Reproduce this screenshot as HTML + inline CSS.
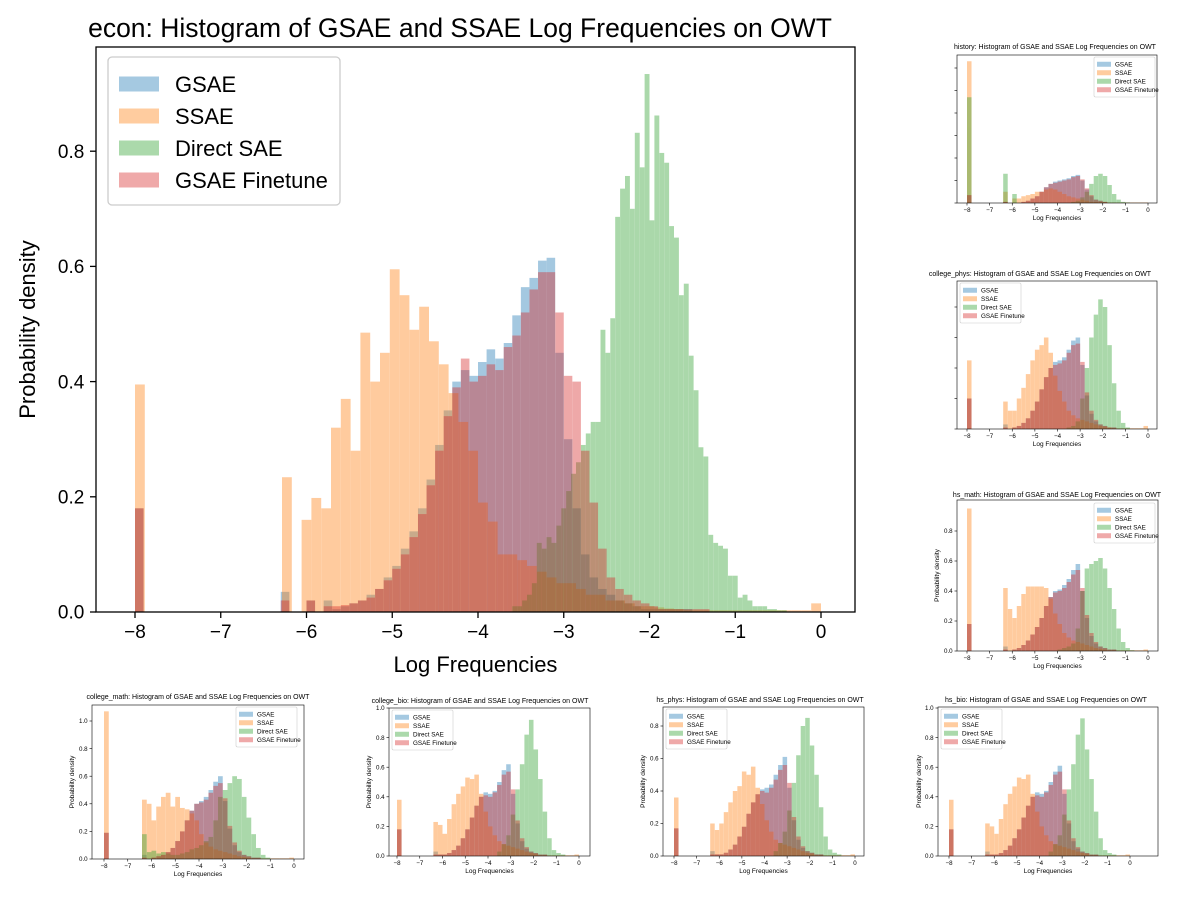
<!DOCTYPE html>
<html><head><meta charset="utf-8">
<style>
html,body{margin:0;padding:0;background:#fff;}
svg{display:block;font-family:"Liberation Sans","DejaVu Sans",sans-serif;}
</style></head>
<body>
<svg id="fig" width="1192" height="906" viewBox="0 0 1192 906" xmlns="http://www.w3.org/2000/svg"></svg>
<script>
// ===== Main chart (econ) data =====
const seriesNames = ["GSAE","SSAE","Direct SAE","GSAE Finetune"];
const xTickLabels = ["−8","−7","−6","−5","−4","−3","−2","−1","0"];
const xTickValues = [-8,-7,-6,-5,-4,-3,-2,-1,0];
const mainYTickValues = [0,0.2,0.4,0.6,0.8];
const mainYTickLabels = ["0.0","0.2","0.4","0.6","0.8"];

const gsaeStart = -8, gsaeWidth = 0.1;
const gsaeValues = [.18,0,0,0,0,0,0,0,0,0,0,0,0,0,0,0,0,.035,0,0,.02,0,.02,.005,.01,.015,.02,.03,.04,.06,.08,.11,.14,.18,.23,.29,.35,.40,.42,.41,.434,.456,.44,.467,.515,.564,.58,.61,.615,.45,.30,.18,.10,.06,.04,.03,.02,.015,.01,.005,.005,.005,.005,.005,.005];
const ssaeStart = -8, ssaeWidth = 8/70;
const ssaeValues = [.395,0,0,0,0,0,0,0,0,0,0,0,0,0,0,.234,0,.16,.198,.18,.32,.37,.28,.485,.40,.45,.595,.55,.49,.53,.47,.43,.38,.33,.28,.19,.157,.10,.10,.09,.08,.07,.06,.05,.05,.04,.03,.03,.02,.02,.015,.01,.01,.008,.006,.005,.003,.003,.003,.003,.003,.003,.003,.003,.003,.003,.003,.003,.003,.015];
const directStart = -3.6, directWidth = 8/140;
const directValues = [.01,.01,.02,.03,.05,.12,.11,.13,.12,.15,.18,.21,.24,.26,.29,.31,.33,.33,.49,.45,.51,.686,.735,.757,.70,.832,.772,.934,.68,.862,.797,.78,.67,.65,.55,.57,.445,.385,.286,.27,.134,.12,.115,.11,.063,.063,.025,.03,.02,.01,.01,.01,.005,.005,.003,.003];
const finetuneStart = -8, finetuneWidth = 0.1;
const finetuneValues = [.18,0,0,0,0,0,0,0,0,0,0,0,0,0,0,0,0,.02,0,0,.02,0,.01,.01,.012,.015,.02,.025,.04,.055,.075,.10,.13,.17,.22,.28,.34,.39,.44,.40,.41,.43,.42,.46,.48,.52,.56,.59,.59,.52,.41,.40,.28,.19,.11,.06,.04,.03,.02,.015,.01,.005,.005,.005,.005,.005,.005];

// ===== Small charts data (bins of 0.2 from -8) =====
const smallStart = -8, smallWidth = 0.2;
const historyGsae = [.07,0,0,0,0,0,0,0,.01,0,0,0,.01,.02,.04,.06,.10,.14,.17,.19,.20,.21,.22,.24,.25,.20,.12,.06,.03,.02,.01,0,0,0,0,0,0,0,0,0];
const historySsae = [1.26,0,0,0,0,0,0,0,.10,0,.04,.04,.06,.07,.08,.10,.10,.12,.13,.12,.10,.08,.06,.05,.04,.03,.02,.01,.01,.01,.01,.005,.005,.005,.005,.005,.005,.005,.005,.005];
const historyDirect = [.94,0,0,0,0,0,0,0,.26,0,.08,0,0,0,0,0,0,0,0,0,0,0,0,.01,.02,.05,.10,.17,.24,.26,.24,.16,.08,.03,.01,.005,0,0,0,0];
const historyFinetune = [.07,0,0,0,0,0,0,0,.01,0,0,0,.01,.02,.04,.06,.10,.14,.17,.18,.19,.20,.21,.23,.24,.21,.13,.07,.03,.02,.01,0,0,0,0,0,0,0,0,0];

const cphysGsae = [.2,0,0,0,0,0,0,0,.03,0,.01,.02,.04,.07,.12,.18,.26,.34,.40,.44,.45,.47,.52,.58,.60,.42,.22,.10,.05,.03,.02,.01,.01,0,0,0,0,0,0,0];
const cphysSsae = [.45,0,0,0,0,0,0,0,.18,.12,.12,.20,.27,.36,.45,.52,.55,.60,.50,.35,.25,.18,.12,.09,.07,.06,.05,.04,.03,.02,.015,.01,.005,.005,.005,.005,.005,.005,.005,.02];
const cphysDirect = [0,0,0,0,0,0,0,0,0,0,0,0,0,0,0,0,0,0,0,0,0,0,.01,.02,.05,.20,.40,.60,.75,.85,.80,.55,.30,.12,.04,.01,0,0,0,0];
const cphysFinetune = [.2,0,0,0,0,0,0,0,.01,0,.01,.02,.04,.07,.12,.18,.26,.34,.40,.42,.43,.45,.50,.55,.56,.44,.24,.12,.06,.03,.02,.01,.01,0,0,0,0,0,0,0];

const hmathGsae = [.18,0,0,0,0,0,0,0,.03,0,.01,.02,.04,.07,.11,.16,.22,.30,.36,.40,.41,.44,.48,.54,.58,.40,.22,.10,.05,.03,.02,.01,.01,0,0,0,0,0,0,0];
const hmathSsae = [.95,0,0,0,0,0,0,0,.42,.28,.22,.30,.38,.43,.43,.43,.43,.42,.35,.25,.18,.12,.09,.07,.06,.05,.04,.03,.02,.015,.01,.005,.005,.005,.005,.005,.005,.005,.005,.01];
const hmathDirect = [0,0,0,0,0,0,0,0,0,0,0,0,0,0,0,0,0,0,0,0,.01,.02,.03,.05,.15,.40,.55,.58,.60,.62,.55,.42,.28,.15,.06,.02,.005,0,0,0];
const hmathFinetune = [.18,0,0,0,0,0,0,0,.01,0,.01,.02,.04,.07,.11,.16,.22,.30,.36,.39,.40,.42,.46,.51,.54,.42,.24,.12,.06,.03,.02,.01,.01,0,0,0,0,0,0,0];

const cmathGsae = [.19,0,0,0,0,0,0,0,.03,0,.01,.02,.03,.05,.08,.13,.20,.28,.35,.40,.42,.45,.50,.56,.60,.42,.22,.10,.05,.03,.02,.01,.01,0,0,0,0,0,0,0];
const cmathSsae = [1.07,0,0,0,0,0,0,0,.43,.40,.28,.38,.45,.48,.38,.45,.37,.36,.33,.28,.18,.12,.09,.07,.06,.05,.04,.03,.02,.015,.01,.005,.005,.005,.005,.005,.005,.005,.005,.01];
const cmathDirect = [0,0,0,0,0,0,0,0,.18,.05,.06,.04,.05,.04,.03,.03,.04,.05,.07,.08,.10,.13,.16,.28,.45,.50,.55,.60,.58,.45,.30,.18,.08,.03,.01,0,0,0,0,0];
const cmathFinetune = [.19,0,0,0,0,0,0,0,.01,0,.01,.02,.03,.05,.08,.13,.20,.28,.35,.40,.41,.43,.48,.53,.55,.44,.24,.12,.06,.03,.02,.01,.01,0,0,0,0,0,0,0];

const cbioGsae = [.18,0,0,0,0,0,0,0,.03,.01,.01,.02,.04,.07,.12,.18,.26,.34,.40,.43,.42,.44,.50,.58,.62,.42,.22,.10,.05,.03,.02,.01,.01,0,0,0,0,0,0,0];
const cbioSsae = [.38,0,0,0,0,0,0,0,.23,.21,.15,.25,.35,.42,.47,.53,.52,.55,.42,.30,.20,.14,.10,.08,.07,.06,.05,.04,.03,.02,.015,.005,.005,.005,.005,.005,.005,.005,.005,.01];
const cbioDirect = [0,0,0,0,0,0,0,0,0,0,0,0,0,0,0,0,0,0,0,0,0,0,.03,.08,.14,.28,.45,.62,.82,.92,.72,.52,.30,.12,.04,.02,.01,0,0,0];
const cbioFinetune = [.18,0,0,0,0,0,0,0,.01,.01,.01,.02,.04,.07,.12,.18,.26,.34,.40,.41,.40,.43,.48,.55,.57,.45,.24,.12,.06,.03,.02,.01,.01,0,0,0,0,0,0,0];

const hphysGsae = [.17,0,0,0,0,0,0,0,.03,.01,.01,.02,.04,.07,.12,.18,.26,.33,.38,.41,.42,.44,.50,.56,.61,.42,.22,.10,.05,.03,.02,.01,.01,0,0,0,0,0,0,0];
const hphysSsae = [.36,0,0,0,0,0,0,0,.20,.16,.20,.27,.33,.40,.43,.52,.50,.55,.42,.32,.22,.15,.10,.08,.07,.06,.05,.04,.03,.02,.015,.005,.005,.005,.005,.005,.005,.005,.005,.01];
const hphysDirect = [0,0,0,0,0,0,0,0,0,0,0,0,0,0,0,0,0,0,0,0,0,0,.03,.08,.15,.28,.45,.62,.80,.85,.68,.50,.30,.12,.04,.02,.01,0,0,0];
const hphysFinetune = [.17,0,0,0,0,0,0,0,.01,.01,.01,.02,.04,.07,.12,.18,.26,.33,.38,.40,.39,.42,.47,.53,.56,.45,.24,.12,.06,.03,.02,.01,.01,0,0,0,0,0,0,0];

const hbioGsae = [.18,0,0,0,0,0,0,0,.03,.01,.01,.02,.04,.07,.12,.18,.26,.34,.40,.43,.42,.44,.50,.57,.61,.42,.22,.10,.05,.03,.02,.01,.01,0,0,0,0,0,0,0];
const hbioSsae = [.38,0,0,0,0,0,0,0,.22,.20,.15,.25,.35,.42,.47,.53,.52,.55,.42,.30,.20,.14,.10,.08,.07,.06,.05,.04,.03,.02,.015,.005,.005,.005,.005,.005,.005,.005,.005,.01];
const hbioDirect = [0,0,0,0,0,0,0,0,0,0,0,0,0,0,0,0,0,0,0,0,0,0,.03,.08,.14,.28,.45,.62,.82,.93,.72,.52,.30,.12,.04,.02,.01,0,0,0];
const hbioFinetune = [.18,0,0,0,0,0,0,0,.01,.01,.01,.02,.04,.07,.12,.18,.26,.34,.40,.41,.40,.43,.48,.55,.57,.45,.24,.12,.06,.03,.02,.01,.01,0,0,0,0,0,0,0];

const colors = ["#1f77b4","#ff7f0e","#2ca02c","#d62728"];
const NS = "http://www.w3.org/2000/svg";
const svg = document.getElementById('fig');

function mk(tag, attrs, parent){
  const e = document.createElementNS(NS, tag);
  for (const k in attrs) e.setAttribute(k, attrs[k]);
  (parent||svg).appendChild(e);
  return e;
}

function drawChart(c){
  const g = mk('g', {});
  
  
  const xs = v => c.xm8 + (v + 8) * (c.x0 - c.xm8) / 8;
  const ys = v => c.y1 - v * c.yUnit;
  c.series.forEach((s, si) => {
    const sg = mk('g', {opacity: 0.4, fill: colors[si]}, g);
    
    
    s.values.forEach((v, i) => {
      if (v <= 0) return;
      const a = xs(s.start + i * s.width), b = xs(s.start + (i + 1) * s.width);
      const top = Math.max(ys(v), c.y0);
      const r = mk('rect', {x: a.toFixed(2), y: top.toFixed(2), width: (b - a).toFixed(2), height: (c.y1 - top).toFixed(2)}, sg);
      
      
    });
  });
  const fr = mk('rect', {x: c.bx0, y: c.y0, width: c.bx1 - c.bx0, height: c.y1 - c.y0, fill: 'none', stroke: '#000', 'stroke-width': c.lw}, g);
  
  
  xTickValues.forEach((v, i) => {
    const x = xs(v);
    mk('line', {x1: x, x2: x, y1: c.y1, y2: c.y1 + c.tick, stroke: '#000', 'stroke-width': c.lw}, g);
    const t = mk('text', {x: x, y: c.y1 + c.tick + c.fs * 1.05, 'font-size': c.fs, 'text-anchor': 'middle', fill: '#000'}, g);
    t.textContent = xTickLabels[i];
    
    
  });
  c.yTicks.forEach((v, i) => {
    const y = ys(v);
    mk('line', {x1: c.bx0 - c.tick, x2: c.bx0, y1: y, y2: y, stroke: '#000', 'stroke-width': c.lw}, g);
    if (c.yLabels) {
      const t = mk('text', {x: c.bx0 - c.tick - c.fs * 0.3, y: y + c.fs * 0.35, 'font-size': c.fs, 'text-anchor': 'end', fill: '#000'}, g);
      t.textContent = c.yLabels[i];
      
      
    }
  });
  const xt = mk('text', {x: (c.bx0 + c.bx1) / 2, y: c.xTitleY, 'font-size': c.afs, 'text-anchor': 'middle', fill: '#000'}, g);
  xt.textContent = 'Log Frequencies';
  
  
  if (c.yTitleX) {
    const yt = mk('text', {x: c.yTitleX, y: (c.y0 + c.y1) / 2, 'font-size': c.afs, 'text-anchor': 'middle', fill: '#000', transform: `rotate(-90 ${c.yTitleX} ${(c.y0 + c.y1) / 2})`}, g);
    yt.textContent = 'Probability density';
    
    
  }
  const tt = mk('text', {x: c.titleX, y: c.titleY, 'font-size': c.tfs, 'text-anchor': 'middle', fill: '#000'}, g);
  tt.textContent = c.title;
  
  
  const L = c.legend;
  const lg = mk('g', {}, g);
  
  
  mk('rect', {x: L.x, y: L.y, width: L.w, height: L.h, rx: L.rx, fill: '#fff', 'fill-opacity': 0.8, stroke: '#ccc', 'stroke-width': c.lw}, lg);
  seriesNames.forEach((n, i) => {
    const cy = L.y + L.pad + L.row * (i + 0.5);
    const p = mk('rect', {x: L.x + L.pad, y: cy - L.ph / 2, width: L.pw, height: L.ph, fill: colors[i], 'fill-opacity': 0.4}, lg);
    
    
    const t = mk('text', {x: L.x + L.pad + L.pw + L.gap, y: cy + L.fs * 0.36, 'font-size': L.fs, fill: '#000'}, lg);
    t.textContent = n;
    
    
  });
}

function S(a,b,cc,d,st,w){ return [{start:st,width:w,values:a},{start:st,width:w,values:b},{start:st,width:w,values:cc},{start:st,width:w,values:d}]; }

drawChart({name:'econ', title:'econ: Histogram of GSAE and SSAE Log Frequencies on OWT',
  bx0:96, bx1:855, y0:47, y1:612, xm8:135, x0:821, yUnit:576, lw:1.3, tick:6, fs:19, afs:22, tfs:26.5,
  yTicks: mainYTickValues, yLabels: mainYTickLabels, xTitleY:672, yTitleX:35, titleX:460, titleY:37,
  series:[{start:gsaeStart,width:gsaeWidth,values:gsaeValues},{start:ssaeStart,width:ssaeWidth,values:ssaeValues},{start:directStart,width:directWidth,values:directValues},{start:finetuneStart,width:finetuneWidth,values:finetuneValues}],
  legend:{x:108,y:57,w:232,h:148,rx:4,pad:11,row:32,pw:40,ph:15,gap:16,fs:22}});

const smallLegend = (x,y) => ({x:x,y:y,w:61,h:40,rx:1.5,pad:3,row:8.5,pw:14,ph:5,gap:4,fs:6.3});
const yt5 = [0,0.2,0.4,0.6,0.8];
const yl5 = ["0.0","0.2","0.4","0.6","0.8"];
const yt6 = [0,0.2,0.4,0.6,0.8,1.0];
const yl6 = ["0.0","0.2","0.4","0.6","0.8","1.0"];
const common = {lw:0.6, tick:2.5, fs:6.2, afs:6.5, tfs:7};

drawChart(Object.assign({}, common, {name:'history', title:'history: Histogram of GSAE and SSAE Log Frequencies on OWT',
  bx0:957, bx1:1157, y0:55, y1:203, xm8:967, x0:1148, yUnit:112.5, yTicks:[0,0.2,0.4,0.6,0.8,1.0,1.2], yLabels:null,
  xTitleY:220, yTitleX:null, titleX:1055, titleY:49, series:S(historyGsae,historySsae,historyDirect,historyFinetune,smallStart,smallWidth),
  legend:smallLegend(1094,57)}));

drawChart(Object.assign({}, common, {name:'college-phys', title:'college_phys: Histogram of GSAE and SSAE Log Frequencies on OWT',
  bx0:957, bx1:1157, y0:281, y1:429, xm8:967, x0:1148, yUnit:152.5, yTicks:yt5, yLabels:null,
  xTitleY:446, yTitleX:null, titleX:1040, titleY:276, series:S(cphysGsae,cphysSsae,cphysDirect,cphysFinetune,smallStart,smallWidth),
  legend:smallLegend(960,283)}));

drawChart(Object.assign({}, common, {name:'hs-math', title:'hs_math: Histogram of GSAE and SSAE Log Frequencies on OWT',
  bx0:957, bx1:1158, y0:500, y1:651, xm8:967, x0:1148, yUnit:150, yTicks:yt5, yLabels:yl5,
  xTitleY:668, yTitleX:939, titleX:1057, titleY:497, series:S(hmathGsae,hmathSsae,hmathDirect,hmathFinetune,smallStart,smallWidth),
  legend:smallLegend(1094,503)}));

drawChart(Object.assign({}, common, {name:'college-math', title:'college_math: Histogram of GSAE and SSAE Log Frequencies on OWT',
  bx0:92, bx1:304, y0:705, y1:859, xm8:104, x0:294, yUnit:138, yTicks:yt6, yLabels:yl6,
  xTitleY:876, yTitleX:74, titleX:198, titleY:699, series:S(cmathGsae,cmathSsae,cmathDirect,cmathFinetune,smallStart,smallWidth),
  legend:smallLegend(236,707)}));

drawChart(Object.assign({}, common, {name:'college-bio', title:'college_bio: Histogram of GSAE and SSAE Log Frequencies on OWT',
  bx0:389, bx1:590, y0:708, y1:856, xm8:397, x0:579, yUnit:148, yTicks:yt6, yLabels:yl6,
  xTitleY:873, yTitleX:371, titleX:480, titleY:703, series:S(cbioGsae,cbioSsae,cbioDirect,cbioFinetune,smallStart,smallWidth),
  legend:smallLegend(392,710)}));

drawChart(Object.assign({}, common, {name:'hs-phys', title:'hs_phys: Histogram of GSAE and SSAE Log Frequencies on OWT',
  bx0:663, bx1:864, y0:707, y1:856, xm8:674, x0:855, yUnit:162.5, yTicks:yt5, yLabels:yl5,
  xTitleY:873, yTitleX:645, titleX:760, titleY:702, series:S(hphysGsae,hphysSsae,hphysDirect,hphysFinetune,smallStart,smallWidth),
  legend:smallLegend(666,709)}));

drawChart(Object.assign({}, common, {name:'hs-bio', title:'hs_bio: Histogram of GSAE and SSAE Log Frequencies on OWT',
  bx0:938, bx1:1158, y0:707, y1:856, xm8:949, x0:1130, yUnit:148, yTicks:yt6, yLabels:yl6,
  xTitleY:873, yTitleX:921, titleX:1046, titleY:702, series:S(hbioGsae,hbioSsae,hbioDirect,hbioFinetune,smallStart,smallWidth),
  legend:smallLegend(941,709)}));
</script>
</body></html>
